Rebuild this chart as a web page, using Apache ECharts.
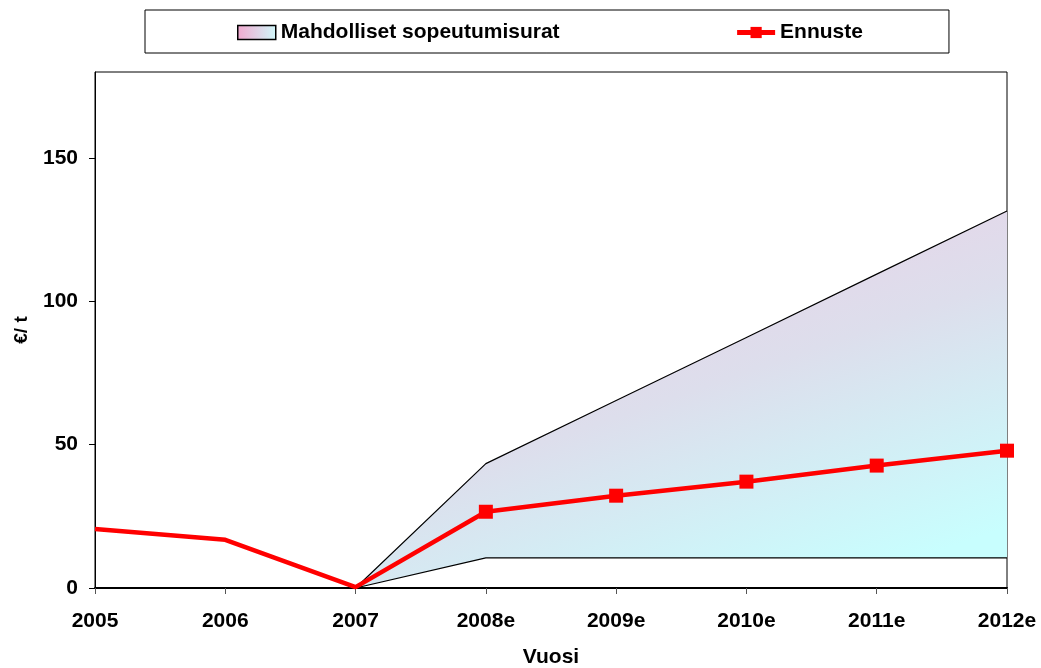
<!DOCTYPE html>
<html>
<head>
<meta charset="utf-8">
<script src="https://cdn.jsdelivr.net/npm/echarts@6/dist/echarts.min.js"></script>
<style>
  html, body { margin: 0; padding: 0; background: #fff; }
  #chart { width: 1041px; height: 668px; }
</style>
</head>
<body>
<div id="chart"></div>
<script>
var years = ['2005', '2006', '2007', '2008e', '2009e', '2010e', '2011e', '2012e'];
var ennuste = [20.6, 16.8, 0.3, 26.6, 32.2, 37.1, 42.7, 47.9];
var bandLower = [null, null, 0, 10.5, 10.5, 10.5, 10.5, 10.5];
var bandUpper = [null, null, 0, 43.4, 65.4, 87.4, 109.5, 131.5];
var yTicks = [0, 50, 100, 150];

var font = 'Liberation Sans, Arial, sans-serif';

// band thickness stacked on top of the lower edge
var bandSpan = bandUpper.map(function (v, i) {
    return v == null ? null : v - bandLower[i];
});

// no markers on the actual years, only on the estimates
var ennusteData = ennuste.map(function (v, i) {
    return years[i].indexOf('e') > 0 ? v : { value: v, symbol: 'none' };
});

// pixel coords (global) so the stacked polygon keeps the pink top / cyan bottom
var bandFill = new echarts.graphic.LinearGradient(660, 200, 800, 600, [
    { offset: 0, color: '#ebd1e7' },
    { offset: 0.45, color: '#dddeec' },
    { offset: 1, color: '#c8fefe' }
], true);
var legendFill = new echarts.graphic.LinearGradient(0, 0, 1, 0, [
    { offset: 0, color: '#f2a8cf' },
    { offset: 1, color: '#d0f8fa' }
]);

var myChart = echarts.init(document.getElementById('chart'));

myChart.setOption({
    backgroundColor: '#fff',
    animation: false,
    grid: {
        left: 95,
        right: 34,
        top: 72,
        bottom: 80,
        outerBoundsMode: 'none',
        show: true,
        borderColor: '#000',
        borderWidth: 1
    },
    legend: {
        left: 145,
        top: 10,
        padding: [12, 86, 10, 92],
        itemGap: 175,
        itemWidth: 38,
        itemHeight: 14,
        borderColor: '#000',
        borderWidth: 1,
        textStyle: { fontFamily: font, fontWeight: 'bold', fontSize: 21, color: '#000' },
        data: [
            { name: 'Mahdolliset sopeutumisurat', icon: 'rect',
              itemStyle: { color: legendFill, borderColor: '#000', borderWidth: 1.5 } },
            { name: 'Ennuste', lineStyle: { width: 5 } }
        ]
    },
    xAxis: {
        type: 'category',
        data: years,
        boundaryGap: false,
        name: 'Vuosi',
        nameLocation: 'middle',
        nameGap: 59,
        nameTextStyle: { fontFamily: font, fontWeight: 'bold', fontSize: 21, color: '#000' },
        axisLine: { lineStyle: { color: '#000', width: 2 } },
        axisTick: { show: true, length: 6, lineStyle: { color: '#555' } },
        axisLabel: { fontFamily: font, fontWeight: 'bold', fontSize: 21, color: '#000', margin: 23 },
        splitLine: { show: false }
    },
    yAxis: {
        type: 'value',
        min: 0,
        max: 180,
        interval: 50,
        name: '€/ t',
        nameLocation: 'middle',
        nameGap: 64,
        nameRotate: 90,
        nameTextStyle: { fontFamily: font, fontWeight: 'bold', fontSize: 19, color: '#000' },
        axisLine: { show: true, lineStyle: { color: '#000', width: 1 } },
        axisTick: { show: true, length: 6, lineStyle: { color: '#000' }, customValues: yTicks },
        axisLabel: {
            fontFamily: font, fontWeight: 'bold', fontSize: 21, color: '#000', margin: 17,
            customValues: yTicks
        },
        splitLine: { show: false }
    },
    series: [
        {
            name: 'lower',
            type: 'line',
            stack: 'band',
            data: bandLower,
            showSymbol: false,
            lineStyle: { color: '#000', width: 1.2 },
            itemStyle: { color: '#000' },
            z: 2
        },
        {
            name: 'Mahdolliset sopeutumisurat',
            type: 'line',
            stack: 'band',
            data: bandSpan,
            showSymbol: false,
            lineStyle: { color: '#000', width: 1.2 },
            itemStyle: { color: '#000' },
            areaStyle: { color: bandFill, opacity: 1 },
            z: 2
        },
        {
            name: 'Ennuste',
            type: 'line',
            data: ennusteData,
            symbol: 'rect',
            symbolSize: 14,
            lineStyle: { color: '#ff0000', width: 4.5 },
            itemStyle: { color: '#ff0000' },
            z: 5
        }
    ]
});
</script>
</body>
</html>
